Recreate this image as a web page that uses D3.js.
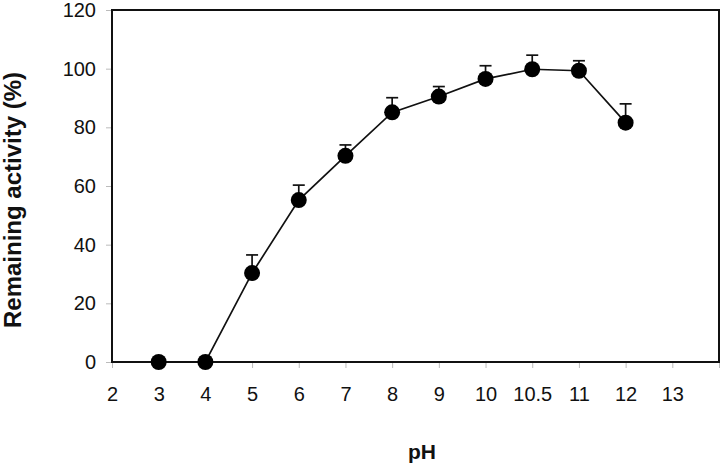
<!DOCTYPE html>
<html>
<head>
<meta charset="utf-8">
<script src="https://cdn.jsdelivr.net/npm/d3@7"></script>
<style>
  html, body { margin: 0; padding: 0; background: #fff; }
  svg { display: block; }
  text { font-family: "Liberation Sans", Arial, sans-serif; }
</style>
</head>
<body>
<svg id="chart" width="721" height="463"></svg>
<script>
// Category labels on the x axis (equally spaced)
const categories = ["2", "3", "4", "5", "6", "7", "8", "9", "10", "10.5", "11", "12", "13"];
// Measured pH points
const phPoints = ["3", "4", "5", "6", "7", "8", "9", "10", "10.5", "11", "12"];
const activity = [0, 0, 30.3, 55.2, 70.3, 85.1, 90.5, 96.5, 99.8, 99.3, 81.6];
const errorUp  = [0, 0, 6.2, 5.1, 3.7, 5.0, 3.4, 4.5, 4.8, 3.4, 6.4];
const yTicks = [0, 20, 40, 60, 80, 100, 120];

const svg = d3.select("#chart");
const mLeft = 112, mRight = 719, mTop = 10, mBottom = 362;

const x = d3.scaleLinear().domain([0, categories.length]).range([mLeft, mRight]);
const y = d3.scaleLinear().domain([0, 120]).range([mBottom, mTop]);

// y axis ticks (gray)
const yAxis = svg.append("g").attr("transform", `translate(${mLeft},0)`)
  .call(d3.axisLeft(y).tickValues(yTicks).tickSize(6).tickPadding(10));
yAxis.select(".domain").remove();
yAxis.selectAll(".tick line").attr("stroke", "#bbb");
yAxis.selectAll(".tick text").attr("font-size", 20).attr("fill", "#111")
  .attr("font-family", "Liberation Sans, Arial, sans-serif");

// x axis ticks (gray)
const xAxis = svg.append("g").attr("transform", `translate(0,${mBottom})`)
  .call(d3.axisBottom(x).tickValues(d3.range(categories.length + 1))
    .tickFormat(i => categories[i] || "").tickSize(6).tickPadding(19));
xAxis.select(".domain").remove();
xAxis.selectAll(".tick line").attr("stroke", "#bbb");
xAxis.selectAll(".tick text").attr("font-size", 20).attr("fill", "#111")
  .attr("font-family", "Liberation Sans, Arial, sans-serif");

// frame
svg.append("rect").attr("x", mLeft).attr("y", mTop)
  .attr("width", mRight - mLeft).attr("height", mBottom - mTop)
  .attr("fill", "none").attr("stroke", "#111").attr("stroke-width", 2);

const idx = p => categories.indexOf(p);
const data = phPoints.map((p, i) => ({ i: idx(p), v: activity[i], e: errorUp[i] }));

// line
svg.append("path").datum(data)
  .attr("d", d3.line().x(d => x(d.i)).y(d => y(d.v)))
  .attr("fill", "none").attr("stroke", "#111").attr("stroke-width", 1.7);

// error bars (upper)
const eb = svg.append("g").selectAll("g").data(data.filter(d => d.e > 0)).join("g");
eb.append("line")
  .attr("x1", d => x(d.i)).attr("x2", d => x(d.i))
  .attr("y1", d => y(d.v)).attr("y2", d => y(d.v + d.e))
  .attr("stroke", "#111").attr("stroke-width", 1.7);
eb.append("line")
  .attr("x1", d => x(d.i) - 6).attr("x2", d => x(d.i) + 6)
  .attr("y1", d => y(d.v + d.e)).attr("y2", d => y(d.v + d.e))
  .attr("stroke", "#111").attr("stroke-width", 1.7);

// markers
svg.append("g").selectAll("circle").data(data).join("circle")
  .attr("cx", d => x(d.i)).attr("cy", d => y(d.v)).attr("r", 8)
  .attr("fill", "#000");

// axis titles
svg.append("text").attr("transform", `translate(21,200) rotate(-90)`)
  .attr("text-anchor", "middle")
  .attr("font-size", 24).attr("font-weight", "bold").attr("fill", "#111")
  .text("Remaining activity (%)");
svg.append("text").attr("x", 422).attr("y", 459)
  .attr("text-anchor", "middle")
  .attr("font-size", 21).attr("font-weight", "bold").attr("fill", "#111")
  .text("pH");
</script>
</body>
</html>
